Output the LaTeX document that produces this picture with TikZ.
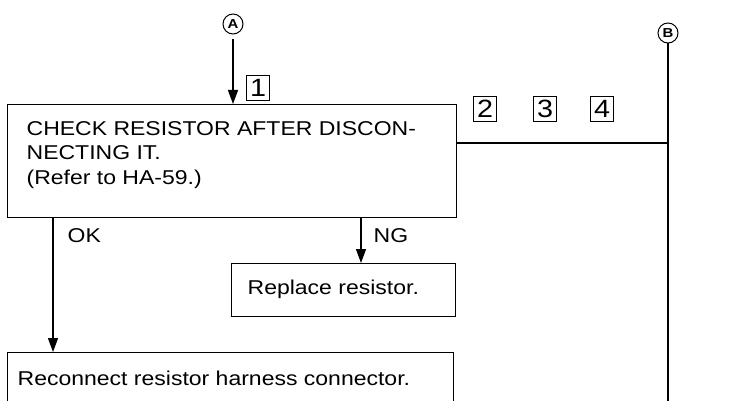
\documentclass[tikz,border=0pt]{standalone}
\usepackage{fontspec}
\setmainfont[FakeStretch=1.15]{Liberation Sans}
\usetikzlibrary{arrows.meta}

\begin{document}
\begin{tikzpicture}[x=1pt, y=-1pt, line width=1.3pt,
  box/.style={draw, line width=1.3pt, anchor=north west, inner sep=0pt},
  txt/.style={anchor=north west, inner sep=0pt, align=left, font=\fontsize{20}{24.5}\selectfont},
  num/.style={draw, line width=0.9pt, inner sep=0pt, minimum width=23pt, minimum height=25pt, font=\fontsize{25}{25}\selectfont},
  circ/.style={draw, circle, line width=1pt, inner sep=0pt, minimum size=20pt, font=\bfseries\fontsize{13}{13}\selectfont},
  arr/.style={-{Triangle[length=14pt, width=10pt]}}]
  \useasboundingbox (0,0) rectangle (734,401);
  \clip (0,0) rectangle (734,401);
  % boxes
  \node[box, minimum width=449pt, minimum height=113pt] (check) at (7,104) {};
  \node[txt] (checktxt) at (26,120.5) {CHECK RESISTOR AFTER DISCON-\\NECTING IT.\\(Refer to HA-59.)};
  \node[box, minimum width=224pt, minimum height=53pt] (replace) at (231,263) {};
  \node[txt] (replacetxt) at (247,279) {Replace resistor.};
  \node[box, minimum width=446pt, minimum height=90pt] (reconnect) at (7,352) {};
  \node[txt] (reconnecttxt) at (17,370) {Reconnect resistor harness connector.};
  % circles and step numbers
  \node[circ] (circA) at (233,24) {A};
  \node[circ] (circB) at (668,33) {B};
  \node[num] (n1) at (258,88) {1};
  \node[num] (n2) at (485,109) {2};
  \node[num] (n3) at (545,109) {3};
  \node[num] (n4) at (602,109) {4};
  % connectors
  \draw[arr, shorten <=5pt] (circA.south) -- (circA.south |- check.north);
  \coordinate (tap) at (456,143);
  \coordinate (bend) at (668,410);
  \draw (tap) -- (tap -| circB);
  \draw (circB.south) -- (bend);
  \coordinate (okstart) at (53,217);
  \coordinate (ngstart) at (361,217);
  \draw[arr] (okstart) -- (okstart |- reconnect.north);
  \draw[arr] (ngstart) -- (ngstart |- replace.north);
  \node[txt] (ok) at (67,228) {OK};
  \node[txt] (ng) at (373,228) {NG};
\end{tikzpicture}
\end{document}
